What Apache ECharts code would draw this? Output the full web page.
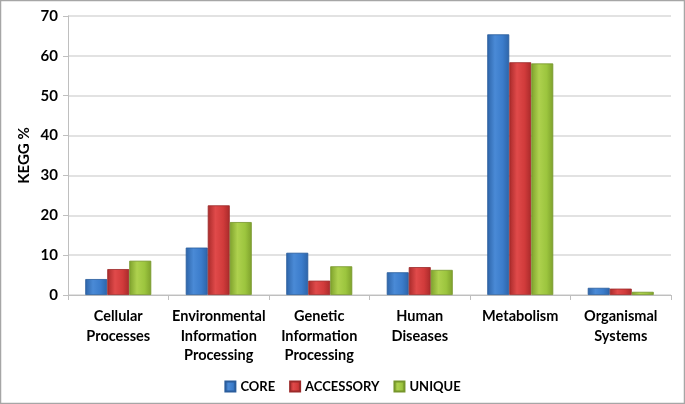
<!DOCTYPE html>
<html><head><meta charset="utf-8">
<script src="https://cdn.jsdelivr.net/npm/echarts@6/dist/echarts.min.js"></script>
<style>html,body{margin:0;padding:0;background:#fff}#c{width:685px;height:404px}</style>
</head><body><div id="c"></div>
<script>
const categories = ["Cellular\nProcesses","Environmental\nInformation\nProcessing","Genetic\nInformation\nProcessing","Human\nDiseases","Metabolism","Organismal\nSystems"];
const core = [4.0, 11.9, 10.6, 5.7, 65.4, 1.8];
const accessory = [6.5, 22.5, 3.6, 7.0, 58.4, 1.6];
const unique = [8.6, 18.3, 7.2, 6.3, 58.1, 0.8];
const seriesNames = ["CORE","ACCESSORY","UNIQUE"];

function grad(dark, mid, light){
  return new echarts.graphic.LinearGradient(0,0,1,0,[
    {offset:0,color:dark},{offset:0.35,color:light},{offset:0.7,color:mid},{offset:1,color:dark}]);
}
const colors = [
  {fill: grad('#2d64a8','#3b7ccb','#4a8ad6'), border:'#2a5d9c'},
  {fill: grad('#a82a2a','#d13b3b','#e04a4a'), border:'#9c2a2a'},
  {fill: grad('#7ea12c','#9cc53e','#aed14e'), border:'#76962b'}
];
const font = 'Lato, "Open Sans", sans-serif';
const chart = echarts.init(document.getElementById('c'));
const data = [core, accessory, unique];
chart.setOption({
  animation:false,
  grid:{left:68,right:14,top:16,bottom:109,containLabel:false},
  graphic:[{type:'rect',shape:{x:0.5,y:0.5,width:684,height:403},style:{fill:'none',stroke:'#a6a6a6',lineWidth:1.5},z:100}],
  legend:{
    data:seriesNames, left:'center', top:375, itemWidth:10, itemHeight:10, itemGap:14,
    textStyle:{fontFamily:font,fontWeight:'bold',fontSize:13,color:'#000'},
    icon:'rect'
  },
  xAxis:{
    type:'category', data:categories,
    axisLine:{lineStyle:{color:'#bfbfbf',width:1}},
    axisTick:{show:true,length:5,lineStyle:{color:'#bfbfbf'}},
    axisLabel:{fontFamily:font,fontWeight:'bold',fontSize:14.5,color:'#000',lineHeight:19.5,margin:12,interval:0}
  },
  yAxis:{
    type:'value', min:0, max:70, interval:10,
    name:'KEGG %', nameLocation:'middle', nameGap:36, nameMoveOverlap:false,
    nameTextStyle:{fontFamily:font,fontWeight:'bold',fontSize:15,color:'#000'},
    axisLine:{show:true,lineStyle:{color:'#bfbfbf'}},
    axisTick:{show:true,length:5,lineStyle:{color:'#bfbfbf'}},
    splitLine:{lineStyle:{color:'#d9d9d9',width:1.5}},
    axisLabel:{fontFamily:font,fontWeight:'bold',fontSize:15,color:'#000',margin:10}
  },
  series: seriesNames.map((n,i)=>({
    name:n, type:'bar', data:data[i], barWidth:22, barGap:'0%',
    itemStyle:{color:colors[i].fill, borderColor:colors[i].border, borderWidth:0.8}
  }))
});
</script></body></html>
